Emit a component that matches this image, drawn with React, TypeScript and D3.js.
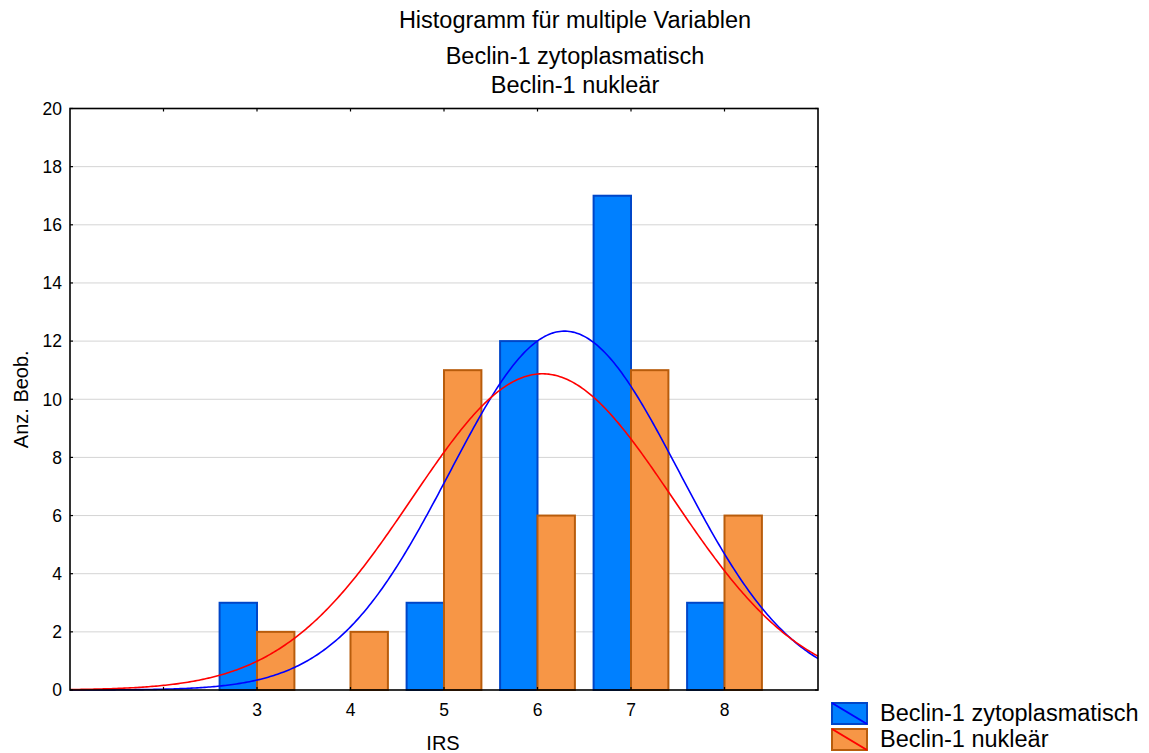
import React from 'react';
import * as d3 from 'd3';

// IRS categories and counts per variable
const categories = [3, 4, 5, 6, 7, 8];
const zytoCounts = [3, 0, 3, 12, 17, 3];
const nuklearCounts = [2, 2, 11, 6, 11, 6];

const seriesNames = ['Beclin-1 zytoplasmatisch', 'Beclin-1 nukleär'];
const titleLines = ['Histogramm für multiple Variablen', 'Beclin-1 zytoplasmatisch', 'Beclin-1 nukleär'];
const xTicks = [2, 3, 4, 5, 6, 7, 8];
const xLabels = [3, 4, 5, 6, 7, 8];
const yTicks = [0, 2, 4, 6, 8, 10, 12, 14, 16, 18, 20];

const FONT = 'Liberation Sans, Arial, sans-serif';
const BLUE = '#0080ff';
const BLUE_EDGE = '#0046c8';
const ORANGE = '#f79646';
const ORANGE_EDGE = '#b85c0c';

// fitted normal curve (expected counts per unit bin) from the bar data
function normalFit(counts: number[]) {
  const n = d3.sum(counts);
  const mean = d3.sum(categories, (c, i) => c * counts[i]) / n;
  const ss = d3.sum(categories, (c, i) => counts[i] * (c - mean) ** 2);
  const sd = Math.sqrt(ss / (n - 1));
  return (x: number) => (n / (sd * Math.sqrt(2 * Math.PI))) * Math.exp(-0.5 * ((x - mean) / sd) ** 2);
}

const App: React.FC = () => {
  const width = 1149;
  const height = 753;
  const left = 70;
  const right = 818;
  const top = 108.5;
  const bottom = 690;

  const x = d3.scaleLinear().domain([1, 9]).range([left, right]);
  const y = d3.scaleLinear().domain([0, 20]).range([bottom, top]);
  const barW = 0.4;

  const curveX = d3.range(1, 9.0001, 0.02);
  const pathFor = (fn: (v: number) => number) =>
    d3
      .line<number>()
      .x((d) => x(d))
      .y((d) => y(fn(d)))(curveX) as string;

  const zytoFn = normalFit(zytoCounts);
  const nukFn = normalFit(nuklearCounts);

  const legendRows = [
    { name: seriesNames[0], fill: BLUE, edge: BLUE_EDGE, line: '#0000ff' },
    { name: seriesNames[1], fill: ORANGE, edge: ORANGE_EDGE, line: '#ff0000' },
  ];

  return (
    <svg width={width} height={height} style={{ position: 'absolute', left: 0, top: 0 }} fontFamily={FONT}>
      <rect width={width} height={height} fill="#fff" />

      {/* title */}
      {titleLines.map((t, i) => (
        <text key={t} x={575} y={[28, 64, 93][i]} textAnchor="middle" fontSize={23.5} fill="#000">
          {t}
        </text>
      ))}

      {/* grid */}
      {yTicks
        .filter((t) => t > 0 && t < 20)
        .map((t) => (
          <line key={t} x1={left} x2={right} y1={y(t)} y2={y(t)} stroke="#d4d4d4" strokeWidth={1} />
        ))}

      {/* bars */}
      {categories.map((c, i) =>
        zytoCounts[i] > 0 ? (
          <rect
            key={'z' + c}
            x={x(c - barW)}
            y={y(zytoCounts[i])}
            width={x(c) - x(c - barW)}
            height={y(0) - y(zytoCounts[i])}
            fill={BLUE}
            stroke={BLUE_EDGE}
            strokeWidth={2}
          />
        ) : null
      )}
      {categories.map((c, i) =>
        nuklearCounts[i] > 0 ? (
          <rect
            key={'n' + c}
            x={x(c)}
            y={y(nuklearCounts[i])}
            width={x(c + barW) - x(c)}
            height={y(0) - y(nuklearCounts[i])}
            fill={ORANGE}
            stroke={ORANGE_EDGE}
            strokeWidth={2}
          />
        ) : null
      )}

      {/* fitted curves */}
      <path d={pathFor(zytoFn)} fill="none" stroke="#0000ff" strokeWidth={1.6} />
      <path d={pathFor(nukFn)} fill="none" stroke="#ff0000" strokeWidth={1.6} />

      {/* frame */}
      <rect x={left} y={top} width={right - left} height={bottom - top} fill="none" stroke="#000" strokeWidth={1.6} />

      {/* ticks */}
      {xTicks.map((t) => (
        <g key={'xt' + t}>
          <line x1={x(t)} x2={x(t)} y1={bottom} y2={bottom - 3} stroke="#000" strokeWidth={1.2} />
          <line x1={x(t)} x2={x(t)} y1={top} y2={top + 3} stroke="#000" strokeWidth={1.2} />
        </g>
      ))}
      {yTicks.map((t) => (
        <g key={'yt' + t}>
          <line x1={left} x2={left + 3} y1={y(t)} y2={y(t)} stroke="#000" strokeWidth={1.2} />
          <line x1={right} x2={right - 3} y1={y(t)} y2={y(t)} stroke="#000" strokeWidth={1.2} />
          <text x={62} y={y(t)} dy="0.36em" textAnchor="end" fontSize={17.5}>
            {t}
          </text>
        </g>
      ))}
      {xLabels.map((t) => (
        <text key={'xl' + t} x={x(t)} y={716} textAnchor="middle" fontSize={17.5}>
          {t}
        </text>
      ))}

      {/* axis titles */}
      <text x={443} y={750} textAnchor="middle" fontSize={20}>
        IRS
      </text>
      <text transform={`translate(28,${(top + bottom) / 2}) rotate(-90)`} textAnchor="middle" fontSize={20}>
        Anz. Beob.
      </text>

      {/* legend */}
      {legendRows.map((r, i) => (
        <g key={r.name} transform={`translate(832,${703 + i * 26})`}>
          <rect width={35} height={21} fill={r.fill} stroke={r.edge} strokeWidth={2} />
          <line x1={0} y1={0} x2={35} y2={21} stroke={r.line} strokeWidth={2} />
          <text x={48} y={18} fontSize={23.5}>
            {r.name}
          </text>
        </g>
      ))}
    </svg>
  );
};

export default App;
